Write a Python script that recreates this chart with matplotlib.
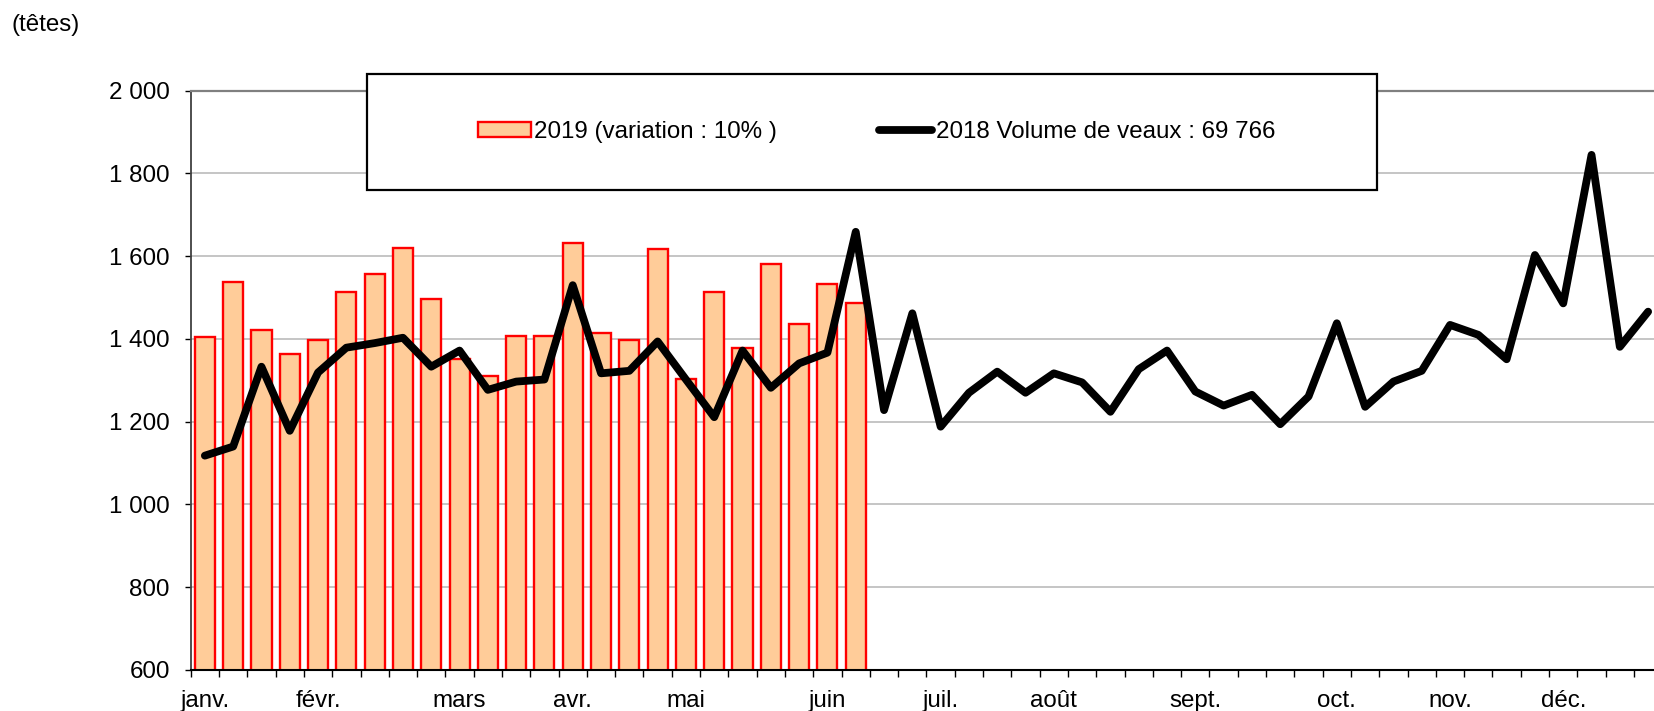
import numpy as np
import matplotlib
matplotlib.use("Agg")
import matplotlib.pyplot as plt
from matplotlib.patches import Rectangle, Patch
from matplotlib.lines import Line2D

plt.rcParams['font.family'] = ['Liberation Sans', 'DejaVu Sans']

# abattages hebdomadaires de veaux (têtes)
val_2019 = [1405, 1538, 1421, 1363, 1397, 1514, 1558, 1621, 1497, 1351,
            1311, 1406, 1406, 1632, 1415, 1397, 1617, 1304, 1514, 1378,
            1581, 1435, 1534, 1488]
val_2018 = [1118, 1140, 1333, 1178, 1319, 1379, 1390, 1403, 1333, 1372,
            1277, 1297, 1302, 1530, 1317, 1323, 1394, 1302, 1211, 1372,
            1282, 1341, 1367, 1659, 1228, 1462, 1188, 1270, 1321, 1270,
            1317, 1295, 1224, 1327, 1372, 1273, 1239, 1265, 1194, 1261,
            1438, 1236, 1297, 1323, 1434, 1410, 1351, 1603, 1486, 1845,
            1381, 1466]
mois_pos = [0, 4, 9, 13, 17, 22, 26, 30, 35, 40, 44, 48]
mois_lab = ['janv.', 'févr.', 'mars', 'avr.', 'mai', 'juin',
            'juil.', 'août', 'sept.', 'oct.', 'nov.', 'déc.']
lab_2019 = '2019 (variation : 10% )'
lab_2018 = '2018 Volume de veaux : 69 766'

fs = 17.4
fig = plt.figure(figsize=(16.54, 7.11), dpi=100)
ax = fig.add_axes([0.1153, 0.0577, 0.8897, 0.8147])

ax.bar(np.arange(len(val_2019)), val_2019, width=0.71, color='#FFCC99',
       edgecolor='#FF0000', linewidth=1.7, zorder=2)
ax.plot(np.arange(len(val_2018)), val_2018, color='black', lw=5.6,
        solid_joinstyle='round', solid_capstyle='round', zorder=3)

ax.set_xlim(-0.5, 51.5)
ax.set_ylim(600, 2000)
yt = np.arange(600, 2001, 200)
ax.set_yticks(yt, [f"{v:,}".replace(',', ' ') for v in yt])
ax.yaxis.grid(True, color='#C0C0C0', lw=1.3)
ax.set_axisbelow(True)

ax.set_xticks(mois_pos, mois_lab)
ax.set_xticks(np.arange(-0.5, 52, 1), minor=True)
ax.tick_params(axis='x', which='major', length=0, pad=14.5, labelsize=fs)
ax.tick_params(axis='x', which='minor', length=5, width=1, direction='out')
ax.tick_params(axis='y', length=4, width=1, pad=11, labelsize=fs)

ax.spines['right'].set_visible(False)
ax.spines['top'].set_color('#808080')
ax.spines['top'].set_linewidth(1.6)
ax.spines['left'].set_color('#404040')
ax.spines['left'].set_linewidth(1.3)
ax.spines['bottom'].set_linewidth(1.5)

fig.text(0.007, 1 - 25 / 711, '(têtes)', fontsize=fs, va='center', ha='left')

# cadre de la légende
fig.add_artist(Rectangle((0.2219, 0.7328), 0.6106, 0.1632, transform=fig.transFigure,
                         facecolor='white', edgecolor='black', lw=1.6, zorder=5))
handles = [Patch(facecolor='#FFCC99', edgecolor='#FF0000', lw=1.7),
           Line2D([], [], color='black', lw=5.6, solid_capstyle='round')]
leg = fig.legend(handles, [lab_2019, lab_2018], ncol=2, loc='center left',
                 bbox_to_anchor=(0.2815, 0.8143), frameon=False, fontsize=fs,
                 borderpad=0, handlelength=2.2, handleheight=0.55,
                 handletextpad=0.15, columnspacing=4.2)
leg.set_zorder(6)

fig.savefig('out.png', dpi=100)
